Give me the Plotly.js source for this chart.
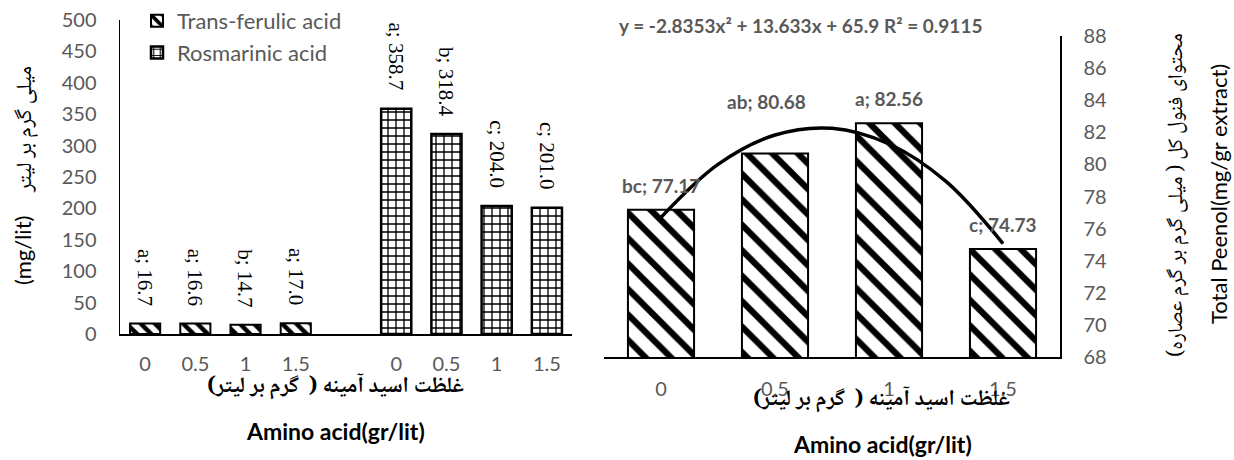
<!DOCTYPE html>
<html><head><meta charset="utf-8">
<script src="https://cdn.plot.ly/plotly-3.0.1.min.js"></script>
<style>html,body{margin:0;padding:0;background:#fff}</style>
</head><body><div id="chart" style="width:1234px;height:460px"></div>
<script>
// ---- data ----
const leftTickLabels = ['0', '0.5', '1', '1.5', '0', '0.5', '1', '1.5'];
const ferulicValues = [16.7, 16.6, 14.7, 17.0];
const ferulicLetters = ['a', 'a', 'b', 'a'];
const rosmarinicValues = [358.7, 318.4, 204.0, 201.0];
const rosmarinicLetters = ['a', 'b', 'c', 'c'];
const aminoLevels = ['0', '0.5', '1', '1.5'];
const phenolValues = [77.17, 80.68, 82.56, 74.73];
const phenolLetters = ['bc', 'ab', 'a', 'c'];
const trendX = [1, 1.5, 2, 2.5, 3, 3.5, 4];
const trendY = [76.70, 80.00, 81.83, 82.25, 81.27, 78.94, 75.07];
const equationText = 'y = -2.8353x² + 13.633x + 65.9 R² = 0.9115';

// ---- styling ----
const W = 1234, H = 460;
const px = v => v / W, py = v => 1 - v / H;
const GRAY = '#595959';
const SANS = 'Lato, "Open Sans", sans-serif';
const SERIF = '"Liberation Serif", "DejaVu Serif", serif';
const ARABIC = '"Noto Naskh Arabic", "Noto Sans Arabic", "DejaVu Sans", sans-serif';
const RTL = s => '\u202B' + s + '\u202C';

const ferulicX = ferulicValues.map((_, i) => i);
const rosmarinicX = rosmarinicValues.map((_, i) => i + 5);
const phenolX = phenolValues.map((_, i) => i + 1);

const traces = [
  {
    type: 'bar', name: 'Trans-ferulic acid', x: ferulicX, y: ferulicValues,
    xaxis: 'x', yaxis: 'y', width: 0.6,
    marker: { color: 'white', line: { color: '#000', width: 2 },
      pattern: { shape: '\\', fgcolor: '#000', bgcolor: '#fff', size: 10, solidity: 0.45 } },
    hoverinfo: 'skip'
  },
  {
    type: 'bar', name: 'Rosmarinic acid', x: rosmarinicX, y: rosmarinicValues,
    xaxis: 'x', yaxis: 'y', width: 0.6,
    marker: { color: 'white', line: { color: '#000', width: 2.5 },
      pattern: { shape: '+', fgcolor: '#000', bgcolor: '#fff', size: 8, solidity: 0.3 } },
    hoverinfo: 'skip'
  },
  {
    type: 'bar', name: 'Total phenol', x: phenolX, y: phenolValues, showlegend: false,
    xaxis: 'x2', yaxis: 'y2', width: 0.58,
    marker: { color: 'white', line: { color: '#000', width: 2 },
      pattern: { shape: '\\', fgcolor: '#000', bgcolor: '#fff', size: 18, solidity: 0.35 } },
    hoverinfo: 'skip'
  },
  {
    type: 'scatter', mode: 'lines', x: trendX, y: trendY, showlegend: false,
    xaxis: 'x2', yaxis: 'y2', line: { color: '#000', width: 3.5, shape: 'spline' },
    hoverinfo: 'skip'
  }
];

const annotations = [];
ferulicValues.forEach((v, i) => annotations.push({
  xref: 'x', yref: 'y', x: ferulicX[i], y: v, text: ferulicLetters[i] + '; ' + v.toFixed(1),
  textangle: 90, showarrow: false, xanchor: 'center', yanchor: 'bottom', yshift: 16,
  font: { family: SERIF, size: 21, color: '#000' }
}));
rosmarinicValues.forEach((v, i) => annotations.push({
  xref: 'x', yref: 'y', x: rosmarinicX[i], y: v, text: rosmarinicLetters[i] + '; ' + v.toFixed(1),
  textangle: 90, showarrow: false, xanchor: 'center', yanchor: 'bottom', yshift: 16,
  font: { family: SERIF, size: 21, color: '#000' }
}));
const phenolLabelShiftY = [11, 38, 11, 11];
const phenolLabelShiftX = [0, -9, 0, 0];
phenolValues.forEach((v, i) => annotations.push({
  xref: 'x2', yref: 'y2', x: phenolX[i], y: v, text: phenolLetters[i] + '; ' + v.toFixed(2),
  showarrow: false, xanchor: 'center', yanchor: 'bottom',
  yshift: phenolLabelShiftY[i], xshift: phenolLabelShiftX[i],
  font: { family: SANS, size: 19, color: GRAY, weight: 'bold' }
}));
const paperNote = (x, y, text, font, extra) => Object.assign({
  xref: 'paper', yref: 'paper', x: px(x), y: py(y), xanchor: 'center', yanchor: 'middle',
  showarrow: false, text: text, font: font
}, extra || {});
annotations.push(
  paperNote(617, 25, equationText, { family: SANS, size: 19, color: GRAY, weight: 'bold' }, { xanchor: 'left' }),
  paperNote(26, 130, RTL('میلی گرم بر لیتر'), { family: ARABIC, size: 22, color: '#000' }, { textangle: -90 }),
  paperNote(23, 251, '(mg/lit)', { family: SANS, size: 22, color: '#000' }, { textangle: -90 }),
  paperNote(335, 387, RTL('غلظت اسید آمینه (  گرم بر لیتر)'), { family: ARABIC, size: 22, color: '#000', weight: 'bold' }),
  paperNote(335, 431, 'Amino acid(gr/lit)', { family: SANS, size: 23, color: '#000', weight: 'bold' }),
  paperNote(881, 400, RTL('غلظت اسید آمینه (  گرم بر لیتر)'), { family: ARABIC, size: 22, color: '#000', weight: 'bold' }),
  paperNote(882, 444, 'Amino acid(gr/lit)', { family: SANS, size: 23, color: '#000', weight: 'bold' }),
  paperNote(1177, 195, RTL('محتوای فنول کل ( میلی گرم بر گرم عصاره)'), { family: ARABIC, size: 21, color: '#000' }, { textangle: -90 }),
  paperNote(1218, 194, 'Total Peenol(mg/gr extract)', { family: SANS, size: 22, color: '#000' }, { textangle: -90 })
);

const axisCommon = {
  showline: true, linecolor: '#000', linewidth: 1.5, showgrid: false, zeroline: false,
  ticks: '', tickfont: { family: SANS, size: 20, color: GRAY }, fixedrange: true
};

const layout = {
  width: W, height: H,
  margin: { l: 0, r: 0, t: 0, b: 0 },
  paper_bgcolor: '#fff', plot_bgcolor: 'rgba(0,0,0,0)',
  barmode: 'overlay',
  showlegend: true,
  legend: { x: px(137), y: 1, xanchor: 'left', yanchor: 'top', itemwidth: 30,
    font: { family: SANS, size: 22, color: GRAY }, bgcolor: 'rgba(0,0,0,0)', tracegroupgap: 0 },
  xaxis: Object.assign({}, axisCommon, {
    domain: [px(120), px(572)], anchor: 'y', range: [-0.5, 8.5],
    tickmode: 'array', tickvals: ferulicX.concat(rosmarinicX), ticktext: leftTickLabels,
    ticklabelstandoff: 11
  }),
  yaxis: Object.assign({}, axisCommon, {
    domain: [py(334), py(20)], anchor: 'x', range: [0, 500], dtick: 50, tick0: 0,
    ticklabelstandoff: 18
  }),
  xaxis2: Object.assign({}, axisCommon, {
    domain: [px(604), px(1060)], anchor: 'y2', range: [0.5, 4.5],
    tickmode: 'array', tickvals: phenolX, ticktext: aminoLevels,
    ticklabelstandoff: 13
  }),
  yaxis2: Object.assign({}, axisCommon, {
    domain: [py(357), py(36)], anchor: 'x2', side: 'right', range: [68, 88], dtick: 2, tick0: 68,
    ticklabelstandoff: 18
  }),
  annotations: annotations
};

Plotly.newPlot('chart', traces, layout, { staticPlot: true, displayModeBar: false });
</script></body></html>
